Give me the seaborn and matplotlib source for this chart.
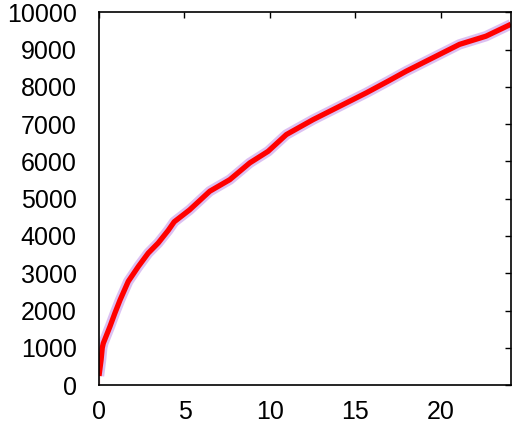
import matplotlib
matplotlib.use("Agg")
import matplotlib.pyplot as plt
import seaborn as sns
import pandas as pd

# values
x_vals = [0.0, 0.0, 0.12, 0.19, 0.25, 0.64, 0.93, 1.23, 1.71, 2.3, 2.88, 3.46,
          4.05, 4.4, 5.3, 6.48, 7.65, 8.82, 9.89, 10.96, 12.52, 14.08, 15.64,
          16.9, 17.97, 19.53, 21.09, 22.64, 24.1]
y_vals = [0, 490, 670, 1000, 1120, 1570, 1930, 2280, 2780, 3180, 3540, 3810,
          4150, 4380, 4700, 5200, 5510, 5960, 6270, 6720, 7120, 7480, 7840,
          8150, 8420, 8780, 9140, 9360, 9680]
x_ticks = [0, 5, 10, 15, 20]
y_ticks = [0, 1000, 2000, 3000, 4000, 5000, 6000, 7000, 8000, 9000, 10000]

df = pd.DataFrame({"t": x_vals, "v": y_vals})

sns.set_style("white")
plt.rcParams["font.family"] = ["Liberation Sans", "DejaVu Sans"]

fig = plt.figure(figsize=(5.13, 4.25), dpi=100)
ax = fig.add_axes([0.193, 0.094, 0.803, 0.877])

# light purple spread behind the main line
sns.lineplot(data=df, x="t", y="v", ax=ax, color="#dcc0f2", linewidth=7.5,
             sort=False, solid_capstyle="butt")
sns.lineplot(data=df, x="t", y="v", ax=ax, color="#ff0000", linewidth=3.8,
             sort=False, solid_capstyle="butt")

ax.set_xlim(0, 24.1)
ax.set_ylim(0, 10000)
ax.set_xticks(x_ticks)
ax.set_yticks(y_ticks)
ax.set_xlabel("")
ax.set_ylabel("")
ax.tick_params(direction="in", length=4, width=1, labelsize=18,
               top=True, right=True, colors="black")
ax.tick_params(axis="x", pad=11)
ax.tick_params(axis="y", pad=16)
for s in ax.spines.values():
    s.set_color("black")
    s.set_linewidth(1.2)

fig.savefig("out.png", dpi=100)
